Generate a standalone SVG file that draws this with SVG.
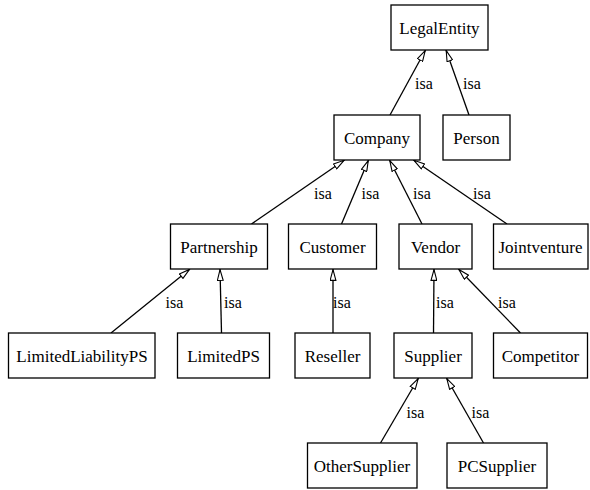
<svg xmlns="http://www.w3.org/2000/svg" width="590" height="490" viewBox="0 0 590 490">
  <style>
    .node rect { fill: #ffffff; stroke: #000000; stroke-width: 1.3; }
    .node text { font-size: 17px; fill: #000000; text-anchor: middle; }
    .edges line { stroke: #000000; stroke-width: 1.3; marker-end: url(#isa-head); }
    .edges text { font-size: 16px; fill: #000000; }
  </style>
  <defs>
    <marker id="isa-head" viewBox="0 0 12 7" refX="12" refY="3.5" markerWidth="12" markerHeight="7" markerUnits="userSpaceOnUse" orient="auto">
      <path d="M0.6,0.6 L11.4,3.5 L0.6,6.4 Z" fill="#ffffff" stroke="#000000" stroke-width="1.1"/>
    </marker>
  </defs>
  <rect width="590" height="490" fill="#ffffff"/>

  <g font-family="'Liberation Serif', 'Times New Roman', Times, 'DejaVu Serif', serif">
  <g class="edges" id="edges">
    <line x1="390" y1="115" x2="425.5" y2="50"/>
    <text x="415" y="89">isa</text>
    <line x1="469" y1="115" x2="446" y2="50"/>
    <text x="463" y="89">isa</text>

    <line x1="251.5" y1="224" x2="344.5" y2="160"/>
    <text x="314" y="199">isa</text>
    <line x1="341.5" y1="224" x2="368.5" y2="160"/>
    <text x="361.5" y="199">isa</text>
    <line x1="422" y1="224" x2="389.5" y2="160"/>
    <text x="413" y="199">isa</text>
    <line x1="507" y1="224" x2="413.5" y2="160"/>
    <text x="473" y="199">isa</text>

    <line x1="111" y1="333" x2="190" y2="269"/>
    <text x="165.5" y="308">isa</text>
    <line x1="221.5" y1="333" x2="220" y2="269"/>
    <text x="224" y="308">isa</text>
    <line x1="333" y1="333" x2="333" y2="269"/>
    <text x="333" y="308">isa</text>
    <line x1="433.5" y1="333" x2="434" y2="269"/>
    <text x="436" y="308">isa</text>
    <line x1="520.5" y1="333" x2="458.5" y2="269"/>
    <text x="498" y="308">isa</text>

    <line x1="380.5" y1="443" x2="418.5" y2="378"/>
    <text x="406.5" y="418">isa</text>
    <line x1="483.5" y1="443" x2="446.5" y2="378"/>
    <text x="471.5" y="418">isa</text>
  </g>

  <g class="node" id="LegalEntity">
    <rect x="391" y="5" width="97" height="45"/>
    <text x="439.5" y="33.5">LegalEntity</text>
  </g>
  <g class="node" id="Person">
    <rect x="443" y="115" width="67" height="45"/>
    <text x="476.5" y="143.5">Person</text>
  </g>
  <g class="node" id="Company">
    <rect x="334" y="115" width="86" height="45"/>
    <text x="377" y="143.5">Company</text>
  </g>
  <g class="node" id="Partnership">
    <rect x="170.5" y="224" width="97" height="45"/>
    <text x="219" y="252.5">Partnership</text>
  </g>
  <g class="node" id="Customer">
    <rect x="288.5" y="224" width="88" height="45"/>
    <text x="332.5" y="252.5">Customer</text>
  </g>
  <g class="node" id="Vendor">
    <rect x="399" y="224" width="73" height="45"/>
    <text x="435.5" y="252.5">Vendor</text>
  </g>
  <g class="node" id="Jointventure">
    <rect x="493.5" y="224" width="94.5" height="45"/>
    <text x="540.5" y="252.5">Jointventure</text>
  </g>
  <g class="node" id="LimitedLiabilityPS">
    <rect x="8.5" y="333" width="146.5" height="45"/>
    <text x="82" y="361.5">LimitedLiabilityPS</text>
  </g>
  <g class="node" id="LimitedPS">
    <rect x="177.5" y="333" width="92" height="45"/>
    <text x="223.5" y="361.5">LimitedPS</text>
  </g>
  <g class="node" id="Reseller">
    <rect x="295" y="333" width="75" height="45"/>
    <text x="332.5" y="361.5">Reseller</text>
  </g>
  <g class="node" id="Supplier">
    <rect x="394" y="333" width="78" height="45"/>
    <text x="433" y="361.5">Supplier</text>
  </g>
  <g class="node" id="Competitor">
    <rect x="493.5" y="333" width="94" height="45"/>
    <text x="540.5" y="361.5">Competitor</text>
  </g>
  <g class="node" id="OtherSupplier">
    <rect x="307.5" y="443" width="109.5" height="45"/>
    <text x="362" y="471.5">OtherSupplier</text>
  </g>
  <g class="node" id="PCSupplier">
    <rect x="447" y="443" width="100" height="45"/>
    <text x="497" y="471.5">PCSupplier</text>
  </g>
  </g>
</svg>
